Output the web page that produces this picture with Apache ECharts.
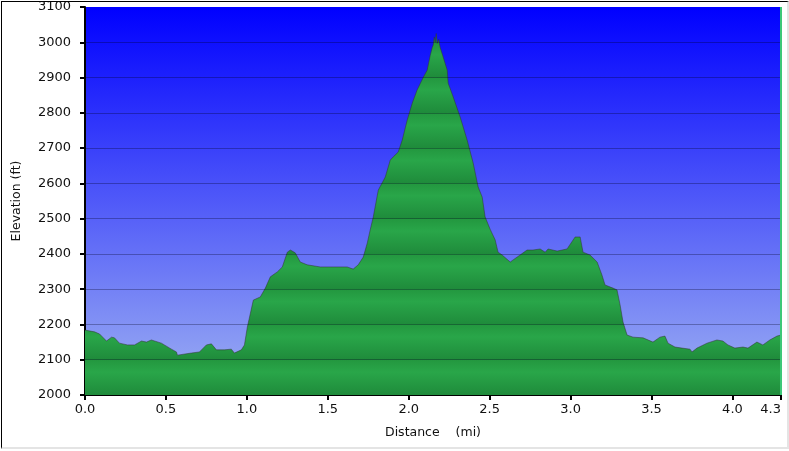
<!DOCTYPE html>
<html>
<head>
<meta charset="utf-8">
<script src="https://cdn.jsdelivr.net/npm/echarts@6/dist/echarts.min.js"></script>
<style>
html,body{margin:0;padding:0;background:#fff;}
#wrap{position:relative;width:789px;height:451px;}
#chart{position:absolute;left:0;top:0;width:789px;height:451px;}
#frame{position:absolute;left:1px;top:1px;width:785px;height:445px;border-top:1px solid #000;border-left:1px solid #000;border-right:2px solid #e4e4e4;border-bottom:2px solid #e4e4e4;pointer-events:none;}
</style>
</head>
<body>
<div id="wrap"><div id="chart"></div><div id="frame"></div></div>
<script>
// Distance (mi)
const distance = [0.00,0.059,0.090,0.133,0.164,0.182,0.213,0.262,0.306,0.349,0.380,0.410,0.472,0.534,0.565,0.571,0.657,0.707,0.750,0.781,0.812,0.861,0.904,0.923,0.966,0.985,1.003,1.040,1.083,1.114,1.145,1.188,1.219,1.250,1.269,1.299,1.330,1.373,1.454,1.534,1.620,1.657,1.688,1.719,1.744,1.762,1.781,1.812,1.855,1.886,1.904,1.935,1.960,1.991,2.022,2.052,2.090,2.114,2.133,2.145,2.151,2.158,2.164,2.170,2.176,2.185,2.194,2.213,2.238,2.244,2.275,2.318,2.361,2.398,2.429,2.454,2.472,2.503,2.534,2.552,2.577,2.627,2.645,2.688,2.731,2.768,2.812,2.843,2.861,2.917,2.978,3.003,3.028,3.059,3.077,3.120,3.164,3.194,3.213,3.262,3.287,3.306,3.324,3.349,3.386,3.448,3.509,3.552,3.583,3.602,3.645,3.688,3.738,3.750,3.781,3.843,3.904,3.941,3.972,4.015,4.065,4.096,4.151,4.188,4.231,4.275,4.300];
// Elevation (ft)
const elevation = [2184,2179,2173,2153,2164,2162,2147,2142,2142,2153,2150,2156,2147,2130,2122,2113,2119,2122,2142,2145,2128,2128,2130,2119,2128,2142,2193,2269,2278,2303,2335,2349,2363,2405,2411,2403,2377,2369,2363,2363,2363,2357,2369,2391,2431,2468,2505,2581,2618,2666,2675,2689,2723,2780,2828,2865,2901,2921,2963,2985,2992,3015,3000,3025,2997,3008,2986,2958,2921,2884,2845,2788,2723,2658,2590,2561,2505,2470,2440,2405,2397,2377,2383,2397,2411,2411,2414,2405,2414,2408,2414,2431,2448,2448,2405,2397,2377,2340,2312,2303,2298,2255,2207,2170,2164,2162,2150,2164,2167,2147,2136,2133,2130,2122,2133,2147,2156,2153,2142,2133,2136,2133,2150,2142,2156,2167,2170];
const yTicks = [2000,2100,2200,2300,2400,2500,2600,2700,2800,2900,3000,3100];
const xTicks = [0,0.5,1.0,1.5,2.0,2.5,3.0,3.5,4.0,4.3];

const chart = echarts.init(document.getElementById('chart'));
const gTop = 7, gBottom = 395;
const nb = yTicks.length - 1;
const stops = [];
for (let i = 0; i < nb; i++) {
  const a = i / nb, b = (i + 1) / nb, w = b - a;
  stops.push({offset: a + 0.0005, color: '#23973f'});
  stops.push({offset: a + w * 0.35, color: '#29a649'});
  stops.push({offset: b - 0.0005, color: '#1f8b3b'});
}
const data = distance.map((d, i) => [d, elevation[i]]);
const font = 'DejaVu Sans';
chart.setOption({
  animation: false,
  grid: {left: 85, right: 8, top: gTop, bottom: 451 - gBottom, show: true, borderWidth: 0,
    backgroundColor: new echarts.graphic.LinearGradient(0, 0, 0, 1, [
      {offset: 0, color: '#0000ff'}, {offset: 1, color: '#9fb2f2'}])},
  xAxis: {
    type: 'value', min: 0, max: 4.3,
    name: 'Distance    (mi)', nameLocation: 'middle', nameGap: 31,
    nameTextStyle: {fontFamily: font, fontSize: 12.5, color: '#111'},
    axisLine: {lineStyle: {color: '#000', width: 2}},
    axisTick: {customValues: xTicks, length: 5, lineStyle: {color: '#000', width: 2}},
    axisLabel: {customValues: xTicks, formatter: v => v.toFixed(1), margin: 8, alignMaxLabel: 'right',
      fontFamily: font, fontSize: 13, color: '#111'},
    splitLine: {show: false}
  },
  yAxis: {
    type: 'value', min: 2000, max: 3100, interval: 100,
    name: 'Elevation (ft)', nameLocation: 'middle', nameGap: 62,
    nameTextStyle: {fontFamily: font, fontSize: 12.5, color: '#111'},
    axisLine: {show: true, lineStyle: {color: '#000', width: 2}},
    axisTick: {show: true, length: 5, lineStyle: {color: '#000', width: 2}},
    axisLabel: {margin: 14, formatter: v => String(v), fontFamily: font, fontSize: 13, color: '#111'},
    splitLine: {show: false}
  },
  series: [{
    type: 'line', data: data, showSymbol: false, silent: true,
    lineStyle: {color: 'rgba(50,50,50,0.5)', width: 1},
    areaStyle: {origin: 'start', opacity: 1,
      color: new echarts.graphic.LinearGradient(0, gTop, 0, gBottom, stops, true)},
    markLine: {
      silent: true, symbol: 'none', label: {show: false}, animation: false,
      data: yTicks.slice(1, -1).map(v => ({yAxis: v, lineStyle: {color: 'rgba(0,0,30,0.3)', width: 1, type: 'solid'}}))
        .concat([{xAxis: 4.3, lineStyle: {color: '#3cc878', width: 2, type: 'solid'}}])
    }
  }]
});
</script>
</body>
</html>
